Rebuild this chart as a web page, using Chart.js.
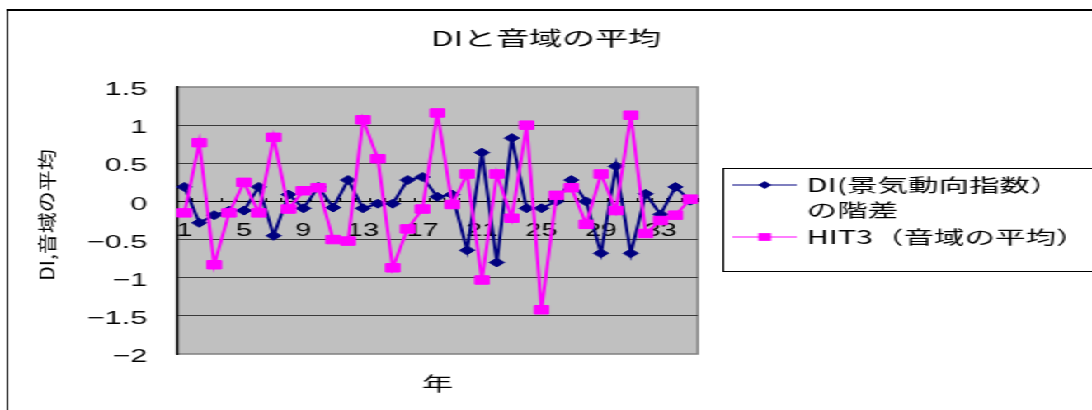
<!DOCTYPE html>
<html>
<head>
<meta charset="utf-8">
<script src="https://cdn.jsdelivr.net/npm/chart.js@4.4.0/dist/chart.umd.min.js"></script>
<style>
  html, body { margin: 0; padding: 0; background: #fff; overflow: hidden; width: 1092px; height: 410px; }
  /* the chart is laid out on a narrow sheet and widened to the page */
  #wrap { position: absolute; left: 0; top: 0; width: 662px; height: 410px; transform: scaleX(1.6495); transform-origin: 0 0; }
  #frame { position: absolute; left: 4px; top: 9px; width: 800px; height: 500px; border-left: 1.4px solid #000; border-top: 2px solid #000; }
  #c { position: absolute; left: 0; top: 0; }
</style>
</head>
<body>
<div id="wrap">
  <div id="frame"></div>
  <canvas id="c" width="662" height="410"></canvas>
</div>
<script>
// 年 (1..35)
const categories = ['1','2','3','4','5','6','7','8','9','10','11','12','13','14','15','16','17','18',
                    '19','20','21','22','23','24','25','26','27','28','29','30','31','32','33','34','35'];

// DI(景気動向指数)の階差
const diValues = [0.19, -0.28, -0.18, -0.12, -0.12, 0.19, -0.45, 0.09, -0.09, 0.19,
                  -0.08, 0.28, -0.09, -0.03, -0.03, 0.28, 0.32, 0.06, 0.09, -0.64,
                  0.64, -0.80, 0.83, -0.09, -0.09, 0.00, 0.28, 0.00, -0.68, 0.46,
                  -0.68, 0.10, -0.17, 0.19, 0.01];

// HIT3(音域の平均)
const hitValues = [-0.15, 0.77, -0.83, -0.15, 0.25, -0.15, 0.84, -0.10, 0.14, 0.18,
                   -0.50, -0.52, 1.07, 0.56, -0.87, -0.36, -0.10, 1.16, -0.04, 0.36,
                   -1.03, 0.36, -0.22, 1.00, -1.42, 0.08, 0.18, -0.30, 0.36, -0.12,
                   1.13, -0.42, -0.25, -0.18, 0.03];

// category labels printed along the zero line
const xTickLabels = ['1','5','9','13','17','21','25','29','33'];

// legend text, one array of lines per series
const legendLines = [['DI(景気動向指数）', 'の階差'], ['HIT3（音域の平均）']];

const chartTitle = 'DIと音域の平均';
const yTitle = 'DI,音域の平均';
const xTitle = '年';

const CJK = '"Noto Sans CJK JP", "Noto Sans CJK SC", sans-serif';
const LATIN = '"Liberation Sans", Arial, sans-serif';

function fmtTick(v) {
  const a = Math.abs(v);
  return (v < 0 ? '\u2212' : '') + String(a);
}

// grey plot area with a soft border, as in spreadsheet charts
const plotBackground = {
  id: 'plotBackground',
  beforeDraw(chart) {
    const {ctx, chartArea: a} = chart;
    ctx.save();
    ctx.fillStyle = '#c0c0c0';
    ctx.fillRect(a.left, a.top, a.right - a.left, a.bottom - a.top);
    ctx.strokeStyle = '#808080';
    ctx.lineWidth = 1.5;
    ctx.strokeRect(a.left, a.top, a.right - a.left, a.bottom - a.top);
    ctx.restore();
  }
};

// vertical axis caption, drawn narrow
const yCaption = {
  id: 'yCaption',
  afterDraw(chart) {
    const {ctx} = chart;
    ctx.save();
    ctx.translate(29, 215);
    ctx.rotate(-Math.PI / 2);
    ctx.scale(1, 0.55);
    ctx.font = '21px ' + CJK;
    ctx.fillStyle = '#000';
    ctx.textAlign = 'center';
    ctx.textBaseline = 'middle';
    ctx.fillText(yTitle, 0, 0);
    ctx.restore();
  }
};

function marker(ctx, style, x, y, r, color) {
  ctx.fillStyle = color;
  ctx.beginPath();
  if (style === 'rectRot') {
    ctx.moveTo(x, y - r); ctx.lineTo(x + r, y); ctx.lineTo(x, y + r); ctx.lineTo(x - r, y);
  } else {
    const s = r * Math.SQRT1_2;
    ctx.rect(x - s, y - s, 2 * s, 2 * s);
  }
  ctx.closePath();
  ctx.fill();
}

// boxed legend on the right with wrapped labels
const sideLegend = {
  id: 'sideLegend',
  afterDraw(chart) {
    const {ctx} = chart;
    const bx = 438, by = 168, bw = 300, bh = 103;
    ctx.save();
    ctx.fillStyle = '#fff';
    ctx.fillRect(bx, by, bw, bh);
    ctx.strokeStyle = '#000';
    ctx.lineWidth = 1;
    ctx.strokeRect(bx + 0.5, by + 0.5, bw, bh);
    const rows = [185, 237];
    ctx.font = '18.5px ' + CJK;
    ctx.textBaseline = 'middle';
    ctx.textAlign = 'left';
    chart.data.datasets.forEach((ds, i) => {
      const y = rows[i];
      ctx.strokeStyle = ds.borderColor;
      ctx.lineWidth = 1.2;
      ctx.beginPath();
      ctx.moveTo(444, y);
      ctx.lineTo(483, y);
      ctx.stroke();
      marker(ctx, ds.pointStyle, 463.6, y, ds.pointStyle === 'rectRot' ? 4 : 5.5, ds.borderColor);
      ctx.fillStyle = '#000';
      legendLines[i].forEach((line, k) => ctx.fillText(line, 489, y + k * 25));
    });
    ctx.restore();
  }
};

new Chart(document.getElementById('c'), {
  type: 'line',
  data: {
    labels: categories,
    datasets: [
      {
        label: legendLines[0].join(''),
        data: diValues,
        borderColor: '#000080',
        backgroundColor: '#000080',
        pointBackgroundColor: '#000080',
        pointBorderColor: '#000080',
        borderWidth: 2,
        pointStyle: 'rectRot',
        pointRadius: 4.5,
        pointBorderWidth: 1,
        tension: 0,
        order: 1
      },
      {
        label: legendLines[1].join(''),
        data: hitValues,
        borderColor: '#ff00ff',
        backgroundColor: '#ff00ff',
        pointBackgroundColor: '#ff00ff',
        pointBorderColor: '#ff00ff',
        borderWidth: 2,
        pointStyle: 'rect',
        pointRadius: 6,
        pointBorderWidth: 1,
        tension: 0,
        order: 0
      }
    ]
  },
  options: {
    responsive: false,
    animation: false,
    devicePixelRatio: 1,
    layout: { padding: 0 },
    plugins: {
      legend: { display: false },
      tooltip: { enabled: false },
      title: {
        display: true,
        text: chartTitle,
        color: '#000',
        font: { family: CJK, size: 20, weight: 'normal' },
        padding: { top: 26, bottom: 37 }
      }
    },
    scales: {
      x: {
        type: 'category',
        position: { y: 0 },
        offset: true,
        grid: {
          display: true,
          drawOnChartArea: false,
          drawTicks: true,
          tickLength: -4,
          offset: true,
          color: '#000',
          lineWidth: 1
        },
        border: { display: true, color: '#000', width: 1 },
        ticks: {
          autoSkip: false,
          maxRotation: 0,
          minRotation: 0,
          padding: 23,
          color: '#000',
          font: { family: LATIN, size: 17.5 },
          callback(v, i) {
            const l = categories[i];
            return xTickLabels.includes(l) ? l : '';
          }
        }
      },
      x2: {
        type: 'category',
        position: 'bottom',
        offset: true,
        grid: { display: false, drawTicks: false },
        border: { display: false },
        ticks: { display: false },
        title: {
          display: true,
          text: xTitle,
          color: '#000',
          font: { family: CJK, size: 19 },
          padding: { top: 18.6, bottom: 14.6 }
        }
      },
      y: {
        min: -2,
        max: 1.5,
        grid: {
          drawTicks: false,
          lineWidth: 1,
          color: c => (c.tick && (c.tick.value === 1.5 || c.tick.value === -2)) ? 'rgba(0,0,0,0)' : '#3a3a3a'
        },
        border: { display: true, color: '#000', width: 1.2 },
        ticks: {
          stepSize: 0.5,
          padding: 18,
          labelOffset: 3,
          color: '#000',
          font: { family: LATIN, size: 18.5 },
          callback: v => fmtTick(v)
        },
        afterFit(s) { s.width = 107.3; }
      },
      // empty band on the right that leaves room for the legend box
      yRight: {
        type: 'linear',
        position: 'right',
        display: true,
        grid: { display: false, drawTicks: false },
        border: { display: false },
        ticks: { display: false },
        afterFit(s) { s.width = 239; }
      }
    }
  },
  plugins: [plotBackground, yCaption, sideLegend]
});
</script>
</body>
</html>
